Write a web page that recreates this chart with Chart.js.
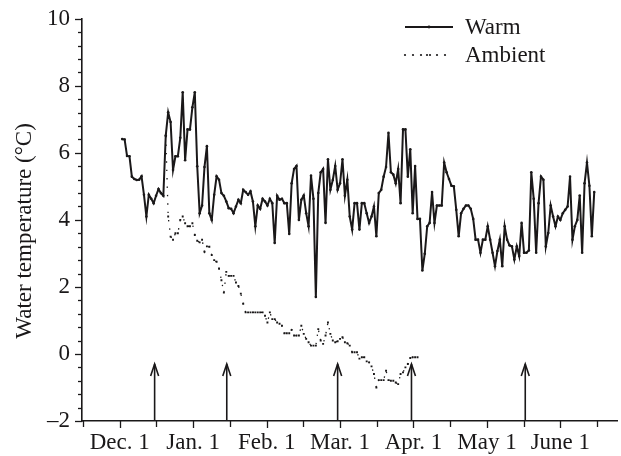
<!DOCTYPE html>
<html><head><meta charset="utf-8">
<style>html,body{margin:0;padding:0;background:#fff;}#wrap{width:621px;height:456px;position:relative;}</style>
<script src="https://cdn.jsdelivr.net/npm/chart.js@4.4.1/dist/chart.umd.min.js"></script>
</head><body><div id="wrap"><canvas id="c"></canvas></div>
<script>
// ---- data (days counted from Dec. 1 = 0) ----
const monthLabels = ['Dec. 1','Jan. 1','Feb. 1','Mar. 1','Apr. 1','May 1','June 1'];
const seriesNames = ['Warm','Ambient'];
const yTickValues = [10, 8, 6, 4, 2, 0, -2];
const warmStartDay = 1;
const warmTemps = [
 6.41, 6.4, 5.91, 5.9, 5.29, 5.22, 5.19, 5.2, 5.3, 4.75,
 4.1, 4.75, 4.63, 4.5, 4.72, 4.92, 4.8, 4.72, 6.52, 7.21,
 6.92, 5.49, 5.9, 5.9, 6.45, 7.81, 5.78, 6.7, 6.7, 7.36,
 7.81, 5.6, 4.2, 4.43, 5.58, 6.2, 4.2, 4.0, 4.75, 5.3,
 5.2, 4.8, 4.72, 4.55, 4.35, 4.33, 4.2, 4.4, 4.6, 4.5,
 4.9, 4.83, 4.75, 4.85, 4.55, 3.81, 4.43, 4.33, 4.63, 4.55,
 4.43, 4.63, 4.5, 3.31, 4.72,
 4.6, 4.63, 4.5, 4.5, 3.58, 5.09, 5.52, 5.61, 4.0, 4.6,
 4.73, 4.2, 3.81, 5.32, 4.63, 1.7, 4.8, 5.42, 5.52, 3.91,
 5.81, 4.9, 5.19, 5.61, 4.9, 5.09, 5.81, 4.72, 5.2, 4.1,
 3.71, 4.5, 4.5, 3.71, 4.5, 4.5, 4.2, 3.91, 4.1, 4.4,
 3.51, 4.8, 4.9, 5.29, 5.58, 6.6, 5.42, 5.35, 5.09, 5.52,
 4.5, 6.7, 6.7, 5.29, 6.11, 4.2, 5.61, 4.03, 4.03, 2.49,
 2.99, 3.81, 3.91, 4.83, 3.91, 4.43,
 4.43, 4.43, 5.71, 5.42, 5.22, 5.02, 5.0, 4.3, 3.51, 4.2,
 4.33, 4.43, 4.43, 4.33, 4.03, 3.41, 3.41, 3.02, 3.41, 3.41,
 3.81, 3.41, 3.02, 2.62, 3.07, 3.41, 2.62, 3.81, 3.41, 3.24,
 3.21, 2.82, 3.21, 2.92, 3.91, 3.02, 3.02, 3.09, 5.42, 4.63,
 3.02, 4.5, 5.29, 5.2, 3.21, 3.61, 4.43, 4.1, 3.81, 4.1,
 4.0, 4.2, 4.3, 4.4, 5.29, 3.41, 3.81, 4.0, 4.73, 3.02,
 5.09, 5.71, 5.02, 3.51, 4.83
];
const ambientStartDay = 19;
const ambientTemps = [
 6.5, 4.1, 3.5, 3.41, 3.6, 3.6, 4.0, 4.1, 3.9, 3.81,
 3.81, 3.9, 3.55, 3.38, 3.33, 3.41, 3.05, 3.21, 3.2, 2.95,
 2.8, 2.75, 2.55, 2.2, 1.83, 2.45, 2.33, 2.33, 2.33, 2.13,
 2.03, 1.8, 1.5, 1.24, 1.24, 1.24, 1.24, 1.24, 1.24, 1.24,
 1.24, 1.14, 0.94, 1.24, 1.04, 1.04, 0.94, 0.9, 0.84, 0.62,
 0.62, 0.62, 0.72, 0.55, 0.55, 0.55, 0.84, 0.6, 0.45, 0.35,
 0.25, 0.25, 0.25, 0.74, 0.4, 0.3, 0.55, 0.94, 0.6, 0.4,
 0.35, 0.38, 0.45, 0.5, 0.35, 0.32, 0.25, 0.05, 0.05, 0.05,
 -0.14, -0.1, -0.1, -0.22, -0.25, -0.37, -0.6, -1.0, -0.78, -0.78,
 -0.78, -0.5, -0.78, -0.8, -0.8, -0.85, -0.9, -0.6, -0.55, -0.4,
 -0.3, -0.12, -0.1, -0.1, -0.1
];
const arrowDays = [14.4, 44.2, 90, 120.5, 167.5];
const arrowTipValue = -0.3;

// ---- styling ----
const INK = '#1a1819';
const FONT = "'Liberation Serif', 'Times New Roman', serif";
const FS = 23;
const monthStep = 182 / 6;      // axis spacing between labelled ticks (days)
const halfStep = monthStep / 2;

const toPts = (arr, start) => arr.map((v, i) => ({ x: start + i, y: v }));

const decor = {
  id: 'decor',
  afterDraw(chart) {
    const { ctx, chartArea: a, scales: { x, y } } = chart;
    ctx.save();
    ctx.strokeStyle = INK; ctx.fillStyle = INK; ctx.lineCap = 'butt';
    // y ticks (major every 2, minor every 0.4)
    ctx.lineWidth = 1.3;
    for (let i = 0; i <= 30; i++) {
      const v = -2 + i * 0.4;
      const py = Math.round(y.getPixelForValue(v)) + 0.5;
      const len = (i % 5 === 0) ? 7 : 4;
      ctx.beginPath(); ctx.moveTo(a.left, py); ctx.lineTo(a.left - len, py); ctx.stroke();
    }
    // x ticks (major at labels, minor half way)
    for (let k = -1; k <= 13; k++) {
      const px = Math.round(x.getPixelForValue(k * halfStep)) + 0.5;
      const len = (k % 2 === 0) ? 7 : 6;
      ctx.beginPath(); ctx.moveTo(px, a.bottom); ctx.lineTo(px, a.bottom + len); ctx.stroke();
    }
    // arrows
    ctx.lineWidth = 1.6;
    arrowDays.forEach(d => {
      const px = x.getPixelForValue(d);
      const y0 = y.getPixelForValue(-2);
      const y1 = y.getPixelForValue(arrowTipValue);
      ctx.beginPath(); ctx.moveTo(px, y0); ctx.lineTo(px, y1); ctx.stroke();
      ctx.beginPath(); ctx.moveTo(px - 4, y1 + 12); ctx.lineTo(px, y1); ctx.lineTo(px + 4, y1 + 12); ctx.stroke();
    });
    // y axis title
    ctx.save();
    ctx.font = FS + 'px ' + FONT;
    ctx.textAlign = 'center'; ctx.textBaseline = 'middle';
    ctx.translate(25, (a.top + a.bottom) / 2 + 11);
    ctx.rotate(-Math.PI / 2);
    ctx.fillText('Water temperature (\u00B0C)', 0, 0);
    ctx.restore();
    // legend
    ctx.font = FS + 'px ' + FONT;
    ctx.textAlign = 'left'; ctx.textBaseline = 'middle';
    const lx0 = 405, lx1 = 453, tx = 465, ly = [27, 55];
    ctx.lineWidth = 2;
    ctx.beginPath(); ctx.moveTo(lx0, ly[0]); ctx.lineTo(lx1, ly[0]); ctx.stroke();
    ctx.beginPath(); ctx.arc((lx0 + lx1) / 2, ly[0], 1.4, 0, Math.PI * 2); ctx.fill();
    ctx.fillText(seriesNames[0], tx, ly[0] + 1);
    [0, 8, 16, 22, 25, 32, 40].forEach(dx => {
      ctx.beginPath(); ctx.arc(lx0 + dx, ly[1], 1.1, 0, Math.PI * 2); ctx.fill();
    });
    ctx.fillText(seriesNames[1], tx, ly[1] + 1);
    ctx.restore();
  }
};

new Chart(document.getElementById('c'), {
  type: 'line',
  data: {
    datasets: [
      { label: seriesNames[0], data: toPts(warmTemps, warmStartDay), borderColor: INK, borderWidth: 2,
        pointRadius: 1.3, pointBackgroundColor: INK, pointBorderWidth: 0, tension: 0 },
      { label: seriesNames[1], data: toPts(ambientTemps, ambientStartDay), borderColor: INK, borderWidth: 1.3,
        borderDash: [1.4, 7], pointRadius: 1.35, pointStyle: 'rect', pointBackgroundColor: INK, pointBorderWidth: 0, tension: 0 }
    ]
  },
  options: {
    animation: false, responsive: true, maintainAspectRatio: false,
    layout: { padding: { top: 16, right: 1, left: 0, bottom: 0 } },
    plugins: { legend: { display: false }, tooltip: { enabled: false } },
    scales: {
      x: {
        type: 'linear', min: -15.6, max: 205.4,
        afterBuildTicks: s => { const t = []; for (let k = -1; k <= 13; k++) t.push({ value: k * halfStep }); s.ticks = t; },
        ticks: {
          autoSkip: false, maxRotation: 0, padding: 1, color: INK, font: { family: FONT, size: FS },
          callback: (v) => { const k = Math.round(v / halfStep); return (k >= 0 && k % 2 === 0 && k / 2 < monthLabels.length) ? monthLabels[k / 2] : ''; }
        },
        grid: { display: true, drawOnChartArea: false, drawTicks: true, tickLength: 7, tickColor: 'rgba(0,0,0,0)' },
        border: { display: true, color: INK, width: 1.6 },
        afterFit: s => { s.height = 35; }
      },
      y: {
        min: -2, max: 10,
        afterBuildTicks: s => { s.ticks = yTickValues.map(v => ({ value: v })); },
        ticks: { padding: 5, color: INK, font: { family: FONT, size: FS },
          callback: v => v < 0 ? '\u2013' + Math.abs(v) : String(v) },
        grid: { display: true, drawOnChartArea: false, drawTicks: true, tickLength: 7, tickColor: 'rgba(0,0,0,0)' },
        border: { display: true, color: INK, width: 1.6 },
        afterFit: s => { s.width = 82; }
      }
    }
  },
  plugins: [decor]
});
</script></body></html>
